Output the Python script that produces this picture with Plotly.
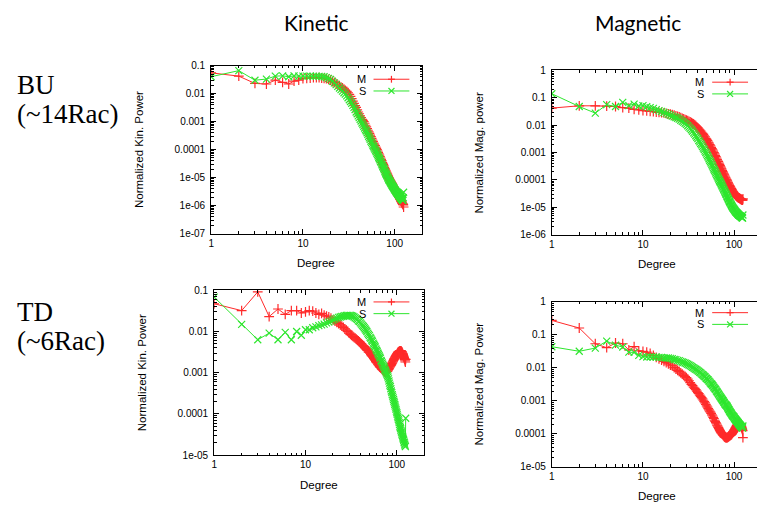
import math
import plotly.graph_objects as go

degrees = list(range(1, 126))

kin_bu_m = [0.055, 0.042, 0.023, 0.022, 0.030, 0.025, 0.022, 0.028, 0.030, 0.034,
            0.035, 0.036, 0.037, 0.037, 0.037, 0.036, 0.035, 0.034, 0.032, 0.030,
            0.027, 0.025, 0.022, 0.020, 0.019, 0.017, 0.016, 0.0145, 0.013, 0.012,
            0.0107, 0.0093, 0.0079, 0.0066, 0.0054, 0.0045, 0.0037, 0.0032, 0.0026, 0.0022,
            0.0019, 0.0016, 0.0014, 0.0012, 0.0011, 0.0010, 8.7e-4, 7.4e-4, 6.5e-4, 5.6e-4,
            4.9e-4, 4.3e-4, 3.8e-4, 3.3e-4, 2.9e-4, 2.5e-4, 2.2e-4, 1.95e-4, 1.7e-4, 1.55e-4,
            1.4e-4, 1.23e-4, 1.1e-4, 1.0e-4, 8.9e-5, 7.9e-5, 7.1e-5, 6.3e-5, 5.6e-5, 5.0e-5,
            4.5e-5, 4.0e-5, 3.5e-5, 3.2e-5, 2.9e-5, 2.6e-5, 2.3e-5, 2.1e-5, 1.9e-5, 1.74e-5,
            1.58e-5, 1.45e-5, 1.32e-5, 1.2e-5, 1.1e-5, 1.0e-5, 9.3e-6, 8.7e-6, 8.1e-6, 7.6e-6,
            7.1e-6, 6.6e-6, 6.2e-6, 5.8e-6, 5.4e-6, 5.0e-6, 4.7e-6, 4.4e-6, 4.1e-6, 3.9e-6,
            3.6e-6, 3.5e-6, 3.2e-6, 3.1e-6, 2.9e-6, 2.75e-6, 2.6e-6, 2.45e-6, 2.3e-6, 2.2e-6,
            2.1e-6, 1.95e-6, 1.86e-6, 1.74e-6, 1.66e-6, 1.58e-6, 1.48e-6, 1.41e-6, 1.32e-6, 1.26e-6,
            1.2e-6, 1.15e-6, 1.1e-6, 1.05e-6, 8.9e-7]

kin_bu_s = [0.040, 0.066, 0.030, 0.033, 0.042, 0.043, 0.040, 0.043, 0.042, 0.042,
            0.042, 0.042, 0.041, 0.042, 0.041, 0.041, 0.040, 0.037, 0.035, 0.032,
            0.0275, 0.024, 0.021, 0.018, 0.0158, 0.0138, 0.0123, 0.0107, 0.0095, 0.0083,
            0.0071, 0.0060, 0.0052, 0.0045, 0.0038, 0.0032, 0.0027, 0.0022, 0.0019, 0.0016,
            0.00138, 0.0012, 0.00105, 8.9e-4, 7.8e-4, 6.8e-4, 5.9e-4, 5.1e-4, 4.6e-4, 4.0e-4,
            3.5e-4, 3.0e-4, 2.6e-4, 2.3e-4, 2.0e-4, 1.8e-4, 1.6e-4, 1.4e-4, 1.26e-4, 1.12e-4,
            1.02e-4, 9.1e-5, 8.3e-5, 7.4e-5, 6.6e-5, 5.9e-5, 5.2e-5, 4.7e-5, 4.3e-5, 3.8e-5,
            3.5e-5, 3.1e-5, 2.8e-5, 2.5e-5, 2.3e-5, 2.1e-5, 1.9e-5, 1.7e-5, 1.55e-5, 1.4e-5,
            1.29e-5, 1.2e-5, 1.1e-5, 1.0e-5, 9.3e-6, 8.5e-6, 7.9e-6, 7.6e-6, 7.1e-6, 6.6e-6,
            6.2e-6, 5.9e-6, 5.5e-6, 5.2e-6, 4.9e-6, 4.7e-6, 4.4e-6, 4.2e-6, 3.9e-6, 3.7e-6,
            3.55e-6, 3.4e-6, 3.2e-6, 3.1e-6, 2.95e-6, 2.8e-6, 2.7e-6, 2.6e-6, 2.5e-6, 2.4e-6,
            2.3e-6, 2.24e-6, 2.14e-6, 2.1e-6, 2.0e-6, 1.9e-6, 1.86e-6, 1.78e-6, 1.74e-6, 1.66e-6,
            1.62e-6, 1.58e-6, 1.51e-6, 1.9e-6, 3.0e-6]

mag_bu_m = [0.042, 0.051, 0.051, 0.050, 0.048, 0.044, 0.042, 0.038, 0.036, 0.034,
            0.033, 0.032, 0.0316, 0.030, 0.0295, 0.029, 0.028, 0.027, 0.026, 0.025,
            0.024, 0.023, 0.022, 0.021, 0.020, 0.019, 0.0178, 0.017, 0.0158, 0.0151,
            0.0145, 0.0138, 0.0132, 0.0123, 0.0117, 0.011, 0.0102, 0.0095, 0.0087, 0.0079,
            0.0072, 0.0066, 0.0060, 0.0055, 0.0050, 0.0046, 0.0041, 0.0037, 0.0033, 0.0030,
            0.0027, 0.0024, 0.0022, 0.00195, 0.00174, 0.00155, 0.00138, 0.00126, 0.00112, 0.0010,
            8.9e-4, 7.9e-4, 7.1e-4, 6.3e-4, 5.6e-4, 5.0e-4, 4.6e-4, 4.1e-4, 3.7e-4, 3.3e-4,
            3.0e-4, 2.7e-4, 2.45e-4, 2.2e-4, 2.0e-4, 1.8e-4, 1.66e-4, 1.51e-4, 1.38e-4, 1.26e-4,
            1.17e-4, 1.07e-4, 1.0e-4, 9.1e-5, 8.3e-5, 7.8e-5, 7.2e-5, 6.6e-5, 6.2e-5, 5.8e-5,
            5.4e-5, 5.0e-5, 4.8e-5, 4.5e-5, 4.2e-5, 4.0e-5, 3.7e-5, 3.55e-5, 3.3e-5, 3.2e-5,
            3.0e-5, 2.95e-5, 2.8e-5, 2.75e-5, 2.6e-5, 2.57e-5, 2.5e-5, 2.4e-5, 2.34e-5, 2.3e-5,
            2.24e-5, 2.19e-5, 2.19e-5, 2.14e-5, 2.1e-5, 2.04e-5, 2.0e-5, 2.0e-5, 1.95e-5, 1.9e-5,
            1.9e-5, 1.86e-5, 1.86e-5, 1.82e-5, 2.0e-5]

mag_bu_s = [0.141, 0.048, 0.0275, 0.056, 0.048, 0.068, 0.052, 0.059, 0.050, 0.052,
            0.047, 0.044, 0.041, 0.037, 0.034, 0.0316, 0.029, 0.027, 0.025, 0.023,
            0.0214, 0.020, 0.019, 0.0178, 0.0166, 0.0151, 0.0138, 0.0129, 0.0117, 0.0107,
            0.0095, 0.0085, 0.0076, 0.0068, 0.0060, 0.0052, 0.0047, 0.0041, 0.0036, 0.0032,
            0.00275, 0.00245, 0.00214, 0.0019, 0.00166, 0.00145, 0.00129, 0.00112, 0.0010, 8.7e-4,
            7.6e-4, 6.8e-4, 5.9e-4, 5.2e-4, 4.6e-4, 4.1e-4, 3.6e-4, 3.2e-4, 2.8e-4, 2.5e-4,
            2.24e-4, 2.0e-4, 1.78e-4, 1.58e-4, 1.41e-4, 1.29e-4, 1.15e-4, 1.05e-4, 9.3e-5, 8.5e-5,
            7.8e-5, 7.1e-5, 6.5e-5, 5.9e-5, 5.4e-5, 4.9e-5, 4.5e-5, 4.1e-5, 3.7e-5, 3.4e-5,
            3.1e-5, 2.9e-5, 2.6e-5, 2.4e-5, 2.24e-5, 2.04e-5, 1.9e-5, 1.74e-5, 1.62e-5, 1.51e-5,
            1.41e-5, 1.32e-5, 1.23e-5, 1.15e-5, 1.07e-5, 1.02e-5, 9.5e-6, 9.1e-6, 8.7e-6, 8.3e-6,
            7.9e-6, 7.6e-6, 7.2e-6, 6.9e-6, 6.6e-6, 6.5e-6, 6.2e-6, 6.0e-6, 5.8e-6, 5.6e-6,
            5.5e-6, 5.2e-6, 5.1e-6, 5.0e-6, 4.9e-6, 4.8e-6, 4.7e-6, 4.6e-6, 4.5e-6, 4.4e-6,
            4.3e-6, 4.2e-6, 4.1e-6, 4.0e-6, 5.2e-6]

kin_td_m = [0.047, 0.032, 0.091, 0.023, 0.035, 0.026, 0.032, 0.032, 0.028, 0.030,
            0.032, 0.031, 0.028, 0.026, 0.0275, 0.025, 0.0235, 0.0224, 0.021, 0.019,
            0.0178, 0.0166, 0.0155, 0.0145, 0.0135, 0.0126, 0.0115, 0.0107, 0.010, 0.0091,
            0.0085, 0.0081, 0.0076, 0.0072, 0.0069, 0.0065, 0.0062, 0.0059, 0.0056, 0.0052,
            0.0050, 0.0047, 0.0045, 0.0043, 0.0040, 0.0038, 0.0036, 0.0035, 0.0032, 0.0031,
            0.0030, 0.00275, 0.0026, 0.0025, 0.00234, 0.00224, 0.0021, 0.0020, 0.00186, 0.00178,
            0.0017, 0.00162, 0.00155, 0.00148, 0.00141, 0.00135, 0.00132, 0.00126, 0.0012, 0.00117,
            0.00115, 0.0011, 0.00107, 0.00105, 0.00102, 0.00102, 0.00105, 0.00107, 0.0011, 0.00115,
            0.0012, 0.00126, 0.00132, 0.00138, 0.00145, 0.00151, 0.00158, 0.00166, 0.00174, 0.00182,
            0.0019, 0.0020, 0.0021, 0.0022, 0.0023, 0.0024, 0.0025, 0.0026, 0.0027, 0.0028,
            0.0029, 0.0030, 0.0031, 0.00316, 0.0032, 0.0033, 0.0033, 0.0034, 0.0034, 0.0034,
            0.0034, 0.0033, 0.0032, 0.00316, 0.0030, 0.0029, 0.00275, 0.0026, 0.00245, 0.00234,
            0.0022, 0.0021, 0.00195, 0.00182, 0.0021]

kin_td_s = [0.068, 0.0148, 0.0063, 0.0091, 0.0063, 0.0095, 0.0063, 0.010, 0.0081, 0.011,
            0.011, 0.0123, 0.0129, 0.0138, 0.0145, 0.0151, 0.0162, 0.017, 0.0178, 0.019,
            0.020, 0.021, 0.022, 0.0224, 0.023, 0.0234, 0.024, 0.0245, 0.0245, 0.0245,
            0.0245, 0.024, 0.0234, 0.0224, 0.0214, 0.0204, 0.0195, 0.018, 0.0174, 0.0162,
            0.0151, 0.0141, 0.0132, 0.0123, 0.0115, 0.0107, 0.010, 0.0091, 0.0085, 0.0079,
            0.0072, 0.0068, 0.0062, 0.0058, 0.0052, 0.0049, 0.0045, 0.0042, 0.0038, 0.0035,
            0.0033, 0.0030, 0.0028, 0.0026, 0.0024, 0.00224, 0.0020, 0.0019, 0.00174, 0.00162,
            0.00151, 0.00141, 0.00132, 0.0012, 0.00112, 0.00105, 9.8e-4, 9.1e-4, 8.5e-4, 7.9e-4,
            7.1e-4, 6.3e-4, 5.6e-4, 5.0e-4, 4.6e-4, 4.1e-4, 3.6e-4, 3.3e-4, 2.95e-4, 2.7e-4,
            2.45e-4, 2.24e-4, 2.04e-4, 1.86e-4, 1.7e-4, 1.55e-4, 1.41e-4, 1.29e-4, 1.17e-4, 1.07e-4,
            9.8e-5, 8.9e-5, 8.1e-5, 7.4e-5, 6.8e-5, 6.2e-5, 5.6e-5, 5.1e-5, 4.7e-5, 4.4e-5,
            4.0e-5, 3.7e-5, 3.5e-5, 3.2e-5, 3.0e-5, 2.8e-5, 2.6e-5, 2.45e-5, 2.3e-5, 2.1e-5,
            2.0e-5, 1.86e-5, 1.74e-5, 1.62e-5, 7.9e-5]

mag_td_m = [0.275, 0.162, 0.054, 0.041, 0.057, 0.054, 0.035, 0.044, 0.033, 0.032,
            0.030, 0.0275, 0.024, 0.021, 0.019, 0.0174, 0.0158, 0.0145, 0.0132, 0.0123,
            0.0115, 0.0102, 0.0093, 0.0085, 0.0078, 0.0071, 0.0065, 0.0060, 0.0055, 0.0051,
            0.0046, 0.0041, 0.0036, 0.0032, 0.0029, 0.0026, 0.0024, 0.0022, 0.0020, 0.0018,
            0.00166, 0.00151, 0.00138, 0.00126, 0.00115, 0.00105, 9.5e-4, 8.7e-4, 7.9e-4, 7.1e-4,
            6.5e-4, 5.9e-4, 5.4e-4, 4.9e-4, 4.6e-4, 4.2e-4, 3.8e-4, 3.5e-4, 3.2e-4, 2.9e-4,
            2.6e-4, 2.4e-4, 2.2e-4, 2.04e-4, 1.86e-4, 1.74e-4, 1.58e-4, 1.48e-4, 1.35e-4, 1.26e-4,
            1.17e-4, 1.1e-4, 1.05e-4, 1.0e-4, 9.5e-5, 9.1e-5, 8.7e-5, 8.3e-5, 8.1e-5, 7.9e-5,
            7.8e-5, 7.8e-5, 7.8e-5, 7.8e-5, 7.9e-5, 8.1e-5, 8.3e-5, 8.5e-5, 8.7e-5, 8.9e-5,
            9.1e-5, 9.3e-5, 9.5e-5, 9.8e-5, 1.02e-4, 1.07e-4, 1.12e-4, 1.17e-4, 1.23e-4, 1.29e-4,
            1.35e-4, 1.41e-4, 1.48e-4, 1.55e-4, 1.62e-4, 1.7e-4, 1.78e-4, 1.86e-4, 1.9e-4, 1.95e-4,
            2.0e-4, 2.04e-4, 2.04e-4, 2.04e-4, 2.0e-4, 1.95e-4, 1.9e-4, 1.82e-4, 1.74e-4, 1.66e-4,
            1.58e-4, 1.48e-4, 1.38e-4, 1.26e-4, 7.8e-5]

mag_td_s = [0.044, 0.032, 0.040, 0.065, 0.049, 0.043, 0.030, 0.0295, 0.024, 0.022,
            0.0214, 0.0214, 0.0214, 0.0214, 0.021, 0.021, 0.0204, 0.020, 0.020, 0.0195,
            0.019, 0.018, 0.0178, 0.017, 0.0166, 0.0158, 0.0151, 0.0148, 0.0141, 0.0135,
            0.0129, 0.0123, 0.0117, 0.0112, 0.0105, 0.010, 0.0095, 0.0091, 0.0087, 0.0083,
            0.0079, 0.0074, 0.0071, 0.0066, 0.0063, 0.0060, 0.0056, 0.0054, 0.0050, 0.0048,
            0.0045, 0.0043, 0.0040, 0.0038, 0.0035, 0.0033, 0.0032, 0.0030, 0.0028, 0.0026,
            0.00245, 0.0023, 0.0022, 0.0020, 0.0019, 0.00178, 0.00166, 0.00158, 0.00148, 0.00138,
            0.00132, 0.00123, 0.00117, 0.0011, 0.00105, 0.0010, 9.3e-4, 8.9e-4, 8.3e-4, 7.9e-4,
            7.6e-4, 7.4e-4, 7.1e-4, 6.8e-4, 6.3e-4, 6.0e-4, 5.6e-4, 5.4e-4, 5.0e-4, 4.8e-4,
            4.6e-4, 4.4e-4, 4.2e-4, 4.0e-4, 3.8e-4, 3.6e-4, 3.55e-4, 3.4e-4, 3.3e-4, 3.2e-4,
            3.0e-4, 2.95e-4, 2.8e-4, 2.75e-4, 2.6e-4, 2.57e-4, 2.45e-4, 2.4e-4, 2.3e-4, 2.24e-4,
            2.19e-4, 2.1e-4, 2.04e-4, 1.95e-4, 1.9e-4, 1.86e-4, 1.82e-4, 1.74e-4, 1.7e-4, 1.66e-4,
            1.62e-4, 1.58e-4, 1.55e-4, 1.51e-4, 1.74e-4]

x_tick_vals = [1, 10, 100]
x_tick_text = ["1", "10", "100"]
y_tick_vals = [1, 0.1, 0.01, 0.001, 0.0001, 1e-5, 1e-6, 1e-7]
y_tick_text = ["1", "0.1", "0.01", "0.001", "0.0001", "1e-05", "1e-06", "1e-07"]
series_names = ["M", "S"]
col_titles = ["Kinetic", "Magnetic"]
row_titles = [("BU", "(~14Rac)"), ("TD", "(~6Rac)")]
y_titles = ["Normalized Kin. Power", "Normalized Mag. power",
            "Normalized Kin. Power", "Normalized Mag. Power"]
x_title = "Degree"

RED = "#ff2a2a"
GREEN = "#2ee62e"
W, H = 757, 514
SANS = "Liberation Sans, Arial, sans-serif"

minor_vals = [m * 10 ** e for e in range(-8, 3) for m in range(2, 10)]

# panel geometry in pixels: (left, right), (top, bottom); log ranges; key position
panels = [
    dict(px=(209, 421), py=(61, 233), xr=[0, 2.301], yr=[-7, -1], mirror=True,
         data=(kin_bu_m, kin_bu_s), key=(366, 75), ytx=136),
    dict(px=(551, 757), py=(66, 234), xr=[0, 2.2514], yr=[-6, 0], mirror=False,
         data=(mag_bu_m, mag_bu_s), key=(706, 78), ytx=478),
    dict(px=(212, 423), py=(291, 460), xr=[0, 2.301], yr=[-5, -1], mirror=True,
         data=(kin_td_m, kin_td_s), key=(366, 303), ytx=139),
    dict(px=(551, 757), py=(303, 472), xr=[0, 2.2514], yr=[-5, 0], mirror=False,
         data=(mag_td_m, mag_td_s), key=(706, 314), ytx=478),
]

fig = go.Figure()
tick_font = dict(family=SANS, size=10, color="black")
layout = dict(
    width=W, height=H, margin=dict(l=0, r=0, t=0, b=0),
    paper_bgcolor="white", plot_bgcolor="white", showlegend=False,
    font=dict(family=SANS, color="black"),
)
annotations = []
shapes = []


def px2paper(x, y):
    return x / W, 1 - y / H


for i, p in enumerate(panels):
    n = i + 1
    xa = "x" if n == 1 else f"x{n}"
    ya = "y" if n == 1 else f"y{n}"
    dom_x = [p["px"][0] / W, min(p["px"][1] / W, 1.0)]
    dom_y = [1 - p["py"][1] / H, 1 - p["py"][0] / H]
    for vals, name, col, sym in zip(p["data"], series_names, [RED, GREEN],
                                    ["cross-thin", "x-thin"]):
        fig.add_trace(go.Scatter(
            x=degrees, y=vals, name=name, mode="lines+markers",
            xaxis=xa, yaxis=ya,
            line=dict(color=col, width=1),
            marker=dict(symbol=sym, size=7, color=col, line=dict(color=col, width=1.2)),
        ))
    yv = [v for v in y_tick_vals if p["yr"][0] - 1e-9 <= math.log10(v) <= p["yr"][1] + 1e-9]
    yt = [y_tick_text[y_tick_vals.index(v)] for v in yv]
    layout["xaxis" if n == 1 else f"xaxis{n}"] = dict(
        domain=dom_x, anchor=ya, type="log", range=p["xr"],
        tickmode="array", tickvals=x_tick_vals, ticktext=x_tick_text,
        ticks="inside", ticklen=5, tickcolor="black", tickwidth=1,
        minor=dict(tickmode="array", tickvals=minor_vals, ticks="inside", ticklen=2.5,
                   tickcolor="black", tickwidth=1, showgrid=False),
        showline=True, linecolor="black", linewidth=1, mirror="ticks",
        showgrid=False, zeroline=False, tickfont=tick_font, fixedrange=True,
    )
    layout["yaxis" if n == 1 else f"yaxis{n}"] = dict(
        domain=dom_y, anchor=xa, type="log", range=p["yr"],
        tickmode="array", tickvals=yv, ticktext=yt,
        ticks="inside", ticklen=5, tickcolor="black", tickwidth=1,
        minor=dict(tickmode="array", tickvals=minor_vals, ticks="inside", ticklen=2.5,
                   tickcolor="black", tickwidth=1, showgrid=False),
        showline=True, linecolor="black", linewidth=1,
        mirror="ticks" if p["mirror"] else False,
        showgrid=False, zeroline=False, tickfont=tick_font, ticklabelstandoff=3,
        fixedrange=True,
    )
    # key (gnuplot style: label on the left, sample on the right)
    kx, ky = p["key"]
    for k, (name, col) in enumerate(zip(series_names, [RED, GREEN])):
        yy = ky + 12 * k
        tx, ty = px2paper(kx, yy)
        annotations.append(dict(text=name, x=tx, y=ty, xref="paper", yref="paper",
                                showarrow=False, xanchor="right", yanchor="middle",
                                font=dict(family=SANS, size=11, color="black")))
        x0, yp = px2paper(kx + 6, yy)
        x1, _ = px2paper(kx + 42, yy)
        shapes.append(dict(type="line", xref="paper", yref="paper", x0=x0, x1=x1,
                           y0=yp, y1=yp, line=dict(color=col, width=1)))
        cx = kx + 24
        if k == 0:
            segs = [((cx - 3.5, yy), (cx + 3.5, yy)), ((cx, yy - 3.5), (cx, yy + 3.5))]
        else:
            segs = [((cx - 3, yy - 3), (cx + 3, yy + 3)), ((cx - 3, yy + 3), (cx + 3, yy - 3))]
        for (a, b) in segs:
            ax_, ay_ = px2paper(*a)
            bx_, by_ = px2paper(*b)
            shapes.append(dict(type="line", xref="paper", yref="paper", x0=ax_, x1=bx_,
                               y0=ay_, y1=by_, line=dict(color=col, width=1.2)))
    # axis titles
    cx = (p["px"][0] + (p["px"][0] + 211)) / 2
    annotations.append(dict(text=x_title, x=cx / W, y=1 - (p["py"][1] + 30) / H,
                            xref="paper", yref="paper", showarrow=False,
                            xanchor="center", yanchor="middle",
                            font=dict(family=SANS, size=11.5)))
    annotations.append(dict(text=y_titles[i], x=p["ytx"] / W,
                            y=1 - (p["py"][0] + p["py"][1]) / 2 / H,
                            xref="paper", yref="paper", showarrow=False, textangle=-90,
                            xanchor="center", yanchor="middle",
                            font=dict(family=SANS, size=11.5)))

# column titles
for t, cx in zip(col_titles, [315, 638]):
    annotations.append(dict(text=t, x=cx / W, y=1 - 17 / H, xref="paper", yref="paper",
                            showarrow=False, xanchor="center", yanchor="middle",
                            font=dict(family="Lato, Open Sans, sans-serif", size=21, color="black")))
# row titles
for (a, b), (ya_, yb_) in zip(row_titles, [(81, 111), (313, 343)]):
    for t, yy in ((a, ya_), (b, yb_)):
        annotations.append(dict(text=t, x=12 / W, y=1 - yy / H, xref="paper", yref="paper",
                                showarrow=False, xanchor="left", yanchor="middle",
                                font=dict(family="Liberation Serif, Times New Roman, serif",
                                          size=27, color="black")))

layout["annotations"] = annotations
layout["shapes"] = shapes
fig.update_layout(**layout)
fig.write_html("out.html", config={"displayModeBar": False},
               post_script="document.body.style.margin='0px';document.body.style.overflow='hidden';")
